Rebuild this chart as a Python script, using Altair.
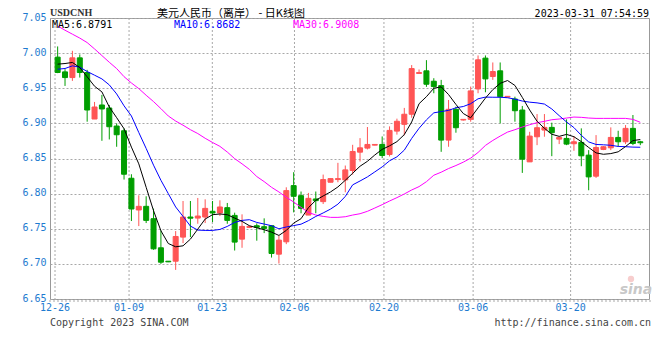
import altair as alt
import pandas as pd

# ---- candle data (one entry per trading day, left to right) ----
opens = [6.9943, 6.9733, 6.9652, 6.9933, 6.9724, 6.9062, 6.9262, 6.9219, 6.8962, 6.8895,
         6.8219, 6.7767, 6.7819, 6.7643, 6.7229, 6.7038, 6.7038, 6.7381, 6.7667, 6.7652,
         6.7667, 6.7748, 6.7724, 6.7800, 6.7690, 6.7352, 6.7519, 6.7543, 6.7529, 6.7543,
         6.7138, 6.7314, 6.8114, 6.7971, 6.7695, 6.7924, 6.7886, 6.8162, 6.8200, 6.8195,
         6.8329, 6.8590, 6.8648, 6.8690, 6.8700, 6.8557, 6.8890, 6.8986, 6.9130, 6.9710,
         6.9748, 6.9600, 6.9538, 6.8762, 6.9200, 6.9048, 6.9057, 6.9490, 6.9929, 6.9667,
         6.9748, 6.9375, 6.9347, 6.9190, 6.8452, 6.8809, 6.8905, 6.8943, 6.8776, 6.8786,
         6.8710, 6.8729, 6.8548, 6.8248, 6.8629, 6.8652, 6.8800, 6.8738, 6.8929, 6.8738]
closes = [6.9724, 6.9652, 6.9933, 6.9724, 6.9190, 6.9233, 6.9205, 6.8952, 6.8838, 6.8276,
          6.7781, 6.7819, 6.7619, 6.7214, 6.7024, 6.7029, 6.7390, 6.7667, 6.7650, 6.7681,
          6.7790, 6.7724, 6.7810, 6.7619, 6.7310, 6.7533, 6.7533, 6.7520, 6.7505, 6.7148,
          6.7338, 6.8043, 6.7962, 6.7790, 6.7933, 6.7900, 6.8200, 6.8214, 6.8214, 6.8338,
          6.8600, 6.8652, 6.8700, 6.8700, 6.8543, 6.8900, 6.9030, 6.9130, 6.9780, 6.9724,
          6.9557, 6.9524, 6.8762, 6.9200, 6.8938, 6.9057, 6.9462, 6.9905, 6.9633, 6.9738,
          6.9380, 6.9385, 6.9180, 6.8490, 6.8819, 6.8938, 6.8943, 6.8867, 6.8800, 6.8705,
          6.8738, 6.8538, 6.8238, 6.8657, 6.8667, 6.8800, 6.8738, 6.8929, 6.8714, 6.8724]
highs = [7.0095, 6.9771, 7.0033, 6.9981, 6.9762, 6.9305, 6.9405, 6.9262, 6.9000, 6.8929,
         6.8276, 6.7976, 6.7962, 6.7786, 6.7476, 6.7040, 6.7467, 6.7895, 6.7895, 6.7938,
         6.7919, 6.7895, 6.7905, 6.7867, 6.7729, 6.7705, 6.7545, 6.7576, 6.7648, 6.7543,
         6.7400, 6.8090, 6.8305, 6.8030, 6.8010, 6.8030, 6.8271, 6.8214, 6.8438, 6.8400,
         6.8695, 6.8790, 6.8948, 6.8702, 6.8814, 6.8957, 6.9067, 6.9220, 6.9830, 6.9767,
         6.9900, 6.9643, 6.9619, 6.9333, 6.9238, 6.9060, 6.9524, 6.9967, 6.9967, 6.9867,
         6.9867, 6.9388, 6.9380, 6.9248, 6.8880, 6.9133, 6.9133, 6.9010, 6.8810, 6.9057,
         6.8819, 6.8929, 6.8619, 6.8833, 6.8676, 6.8943, 6.8895, 6.8976, 6.9119, 6.8752]
lows = [6.9715, 6.9533, 6.9605, 6.9652, 6.9024, 6.9062, 6.8752, 6.8771, 6.8667, 6.8200,
        6.7610, 6.7538, 6.7581, 6.7200, 6.7000, 6.7025, 6.6914, 6.7295, 6.7381, 6.7571,
        6.7581, 6.7595, 6.7681, 6.7571, 6.7190, 6.7229, 6.7510, 6.7330, 6.7438, 6.7090,
        6.7005, 6.7281, 6.7733, 6.7720, 6.7695, 6.7720, 6.7852, 6.8162, 6.8162, 6.8019,
        6.8271, 6.8457, 6.8629, 6.8688, 6.8505, 6.8529, 6.8840, 6.8830, 6.9080, 6.9710,
        6.9520, 6.9429, 6.8595, 6.8667, 6.8867, 6.9040, 6.9024, 6.9429, 6.9443, 6.9619,
        6.9000, 6.9372, 6.9024, 6.8295, 6.8452, 6.8690, 6.8810, 6.8533, 6.8705, 6.8690,
        6.8610, 6.8390, 6.8048, 6.8224, 6.8619, 6.8619, 6.8667, 6.8705, 6.8690, 6.8690]

# ---- moving averages ----
ma5 = [6.9843, 6.9852, 6.9867, 6.9795, 6.9662, 6.9529, 6.9448, 6.9233, 6.9081, 6.8924,
       6.8662, 6.8424, 6.8090, 6.7757, 6.7471, 6.7290, 6.7243, 6.7257, 6.7352, 6.7495,
       6.7638, 6.7700, 6.7710, 6.7700, 6.7652, 6.7605, 6.7543, 6.7514, 6.7486, 6.7452,
       6.7405, 6.7476, 6.7581, 6.7643, 6.7800, 6.7905, 6.7967, 6.8024, 6.8095, 6.8190,
       6.8290, 6.8390, 6.8460, 6.8550, 6.8630, 6.8680, 6.8740, 6.8840, 6.9020, 6.9280,
       6.9380, 6.9500, 6.9520, 6.9410, 6.9270, 6.9140, 6.9080, 6.9220, 6.9360, 6.9480,
       6.9570, 6.9610, 6.9540, 6.9370, 6.9190, 6.9030, 6.8930, 6.8845, 6.8815, 6.8843,
       6.8810, 6.8740, 6.8657, 6.8580, 6.8560, 6.8570, 6.8595, 6.8670, 6.8755, 6.8770]
ma10 = [6.9771, 6.9781, 6.9819, 6.9800, 6.9738, 6.9686, 6.9633, 6.9548, 6.9419, 6.9250,
        6.9105, 6.8870, 6.8643, 6.8405, 6.8190, 6.8000, 6.7810, 6.7676, 6.7538, 6.7481,
        6.7476, 6.7476, 6.7490, 6.7533, 6.7590, 6.7619, 6.7629, 6.7590, 6.7567, 6.7543,
        6.7500, 6.7525, 6.7545, 6.7565, 6.7615, 6.7675, 6.7725, 6.7780, 6.7850, 6.7960,
        6.8125, 6.8180, 6.8238, 6.8309, 6.8381, 6.8467, 6.8524, 6.8619, 6.8786, 6.8930,
        6.9050, 6.9150, 6.9168, 6.9185, 6.9222, 6.9240, 6.9280, 6.9350, 6.9374, 6.9372,
        6.9372, 6.9365, 6.9345, 6.9318, 6.9302, 6.9292, 6.9275, 6.9205, 6.9110, 6.9020,
        6.8940, 6.8830, 6.8736, 6.8700, 6.8695, 6.8688, 6.8672, 6.8668, 6.8662, 6.8660]
ma30 = [7.0386, 7.0326, 7.0270, 7.0214, 7.0150, 7.0060, 6.9965, 6.9870, 6.9780, 6.9665,
        6.9575, 6.9495, 6.9400, 6.9310, 6.9210, 6.9105, 6.9033, 6.8974, 6.8910, 6.8855,
        6.8788, 6.8728, 6.8673, 6.8592, 6.8498, 6.8424, 6.8345, 6.8243, 6.8171, 6.8090,
        6.8024, 6.7948, 6.7881, 6.7805, 6.7733, 6.7695, 6.7676, 6.7662, 6.7662, 6.7671,
        6.7695, 6.7714, 6.7748, 6.7795, 6.7843, 6.7895, 6.7943, 6.7995, 6.8052, 6.8100,
        6.8170, 6.8262, 6.8305, 6.8357, 6.8400, 6.8448, 6.8505, 6.8586, 6.8686, 6.8757,
        6.8819, 6.8876, 6.8910, 6.8948, 6.8981, 6.9010, 6.9029, 6.9052, 6.9062, 6.9076,
        6.9090, 6.9086, 6.9076, 6.9071, 6.9071, 6.9071, 6.9071, 6.9071, 6.9057, 6.9015]

# ---- axis ticks ----
tick_pos = [-0.36, 9.68, 20.97, 32.11, 44.24, 56.33, 69.55]
tick_labels = ["12-26", "01-09", "01-23", "02-06", "02-20", "03-06", "03-20"]
y_ticks = [6.65, 6.70, 6.75, 6.80, 6.85, 6.90, 6.95, 7.00, 7.05]

W, H = 599, 281
BLUE_TXT = "#1E7BD0"
UP, DOWN = "#FF5555", "#009E00"
MONO = "DejaVu Sans Mono"

n = len(opens)
idx = list(range(n))
candles = pd.DataFrame({"k": idx, "open": opens, "high": highs, "low": lows, "close": closes})
candles["dir"] = ["up" if c >= o else "down" for o, c in zip(opens, closes)]

xs = alt.Scale(domain=[-0.36, 79.5], nice=False, zero=False)
ys = alt.Scale(domain=[6.65, 7.05], nice=False, zero=False)
yax = alt.Axis(values=y_ticks, format=".2f", title=None, ticks=False,
               labelColor=BLUE_TXT, labelFont=MONO, labelFontSize=10, labelPadding=4,
               labelOffset=-1, domain=False, grid=True, gridDash=[2, 2],
               gridColor="#A8A8A8", gridWidth=1)

X = alt.X("k:Q", scale=xs, axis=None)

ticks_df = pd.DataFrame({"pos": tick_pos, "lab": tick_labels})
vgrid = alt.Chart(ticks_df).mark_rule(strokeDash=[2, 2], color="#A8A8A8", strokeWidth=1).encode(
    x=alt.X("pos:Q", scale=xs, axis=None), y=alt.value(0), y2=alt.value(H))
xlabels = alt.Chart(ticks_df).mark_text(font=MONO, fontSize=10, color=BLUE_TXT,
                                         baseline="middle", align="center").encode(
    x=alt.X("pos:Q", scale=xs, axis=None), y=alt.value(290), text="lab:N")

base = alt.Chart(candles)
layers = [vgrid]
for d, col in (("up", UP), ("down", DOWN)):
    sub = base.transform_filter(alt.datum.dir == d)
    layers.append(sub.mark_rule(color=col, strokeWidth=1).encode(
        x=X, y=alt.Y("low:Q", scale=ys, axis=yax), y2="high:Q"))
    layers.append(sub.mark_bar(size=5, color=col, stroke=col, strokeWidth=1).encode(
        x=X, y=alt.Y("open:Q", scale=ys, axis=yax), y2="close:Q"))

for vals, col in ((ma30, "#FF00FF"), (ma10, "#0000FF"), (ma5, "#000000")):
    df = pd.DataFrame({"k": idx, "v": vals})
    layers.append(alt.Chart(df).mark_line(color=col, strokeWidth=1).encode(
        x=X, y=alt.Y("v:Q", scale=ys, axis=yax)))


def label(text, x, y, color="#000000", size=10, font=MONO, align="left",
          baseline="middle", **kw):
    return alt.Chart(pd.DataFrame({"t": [text]})).mark_text(
        align=align, baseline=baseline, font=font, fontSize=size, color=color, **kw
    ).encode(x=alt.value(x), y=alt.value(y), text="t:N")


bottom_dots = alt.Chart(pd.DataFrame({"a": [0]})).mark_rule(
    strokeDash=[2, 2], color="#A8A8A8", strokeWidth=1).encode(
    x=alt.value(-1), x2=alt.value(W + 6), y=alt.value(H + 2))

logo_dot = alt.Chart(pd.DataFrame({"a": [0]})).mark_point(
    filled=True, color="#F3B8B8", size=40, shape="circle").encode(
    x=alt.value(581), y=alt.value(261))

layers += [
    xlabels,
    bottom_dots,
    label("USDCNH", 0, -10, color="#333333", size=10, font="Liberation Serif",
          baseline="top", fontWeight="bold"),
    label("美元人民币（离岸） - 日K线图", 181, -10, size=11, font="Noto Sans CJK SC",
          align="center", baseline="top"),
    label("2023-03-31 07:54:59", W, -9, align="right", baseline="top"),
    label("MA5:6.8791", 2, 6.5, color="#000000"),
    label("MA10:6.8682", 124, 6.5, color="#0000FF"),
    label("MA30:6.9008", 243, 6.5, color="#FF00FF"),
    label("Copyright 2023 SINA.COM", 0, 305, color="#444444"),
    label("http://finance.sina.com.cn", 601, 305, color="#444444", align="right"),
    logo_dot,
    label("sina", 586, 272, color="#C8C8C8", size=14, font="DejaVu Sans",
          align="center", fontStyle="italic", fontWeight="bold"),
]

chart = alt.layer(*layers).properties(
    width=W, height=H,
    padding={"left": 42, "top": 10, "right": 3, "bottom": 45},
    autosize=alt.AutoSizeParams(type="none"),
).configure_view(stroke="#999999", strokeWidth=1)

chart.save("out.html", embed_options={"renderer": "svg", "actions": False})
